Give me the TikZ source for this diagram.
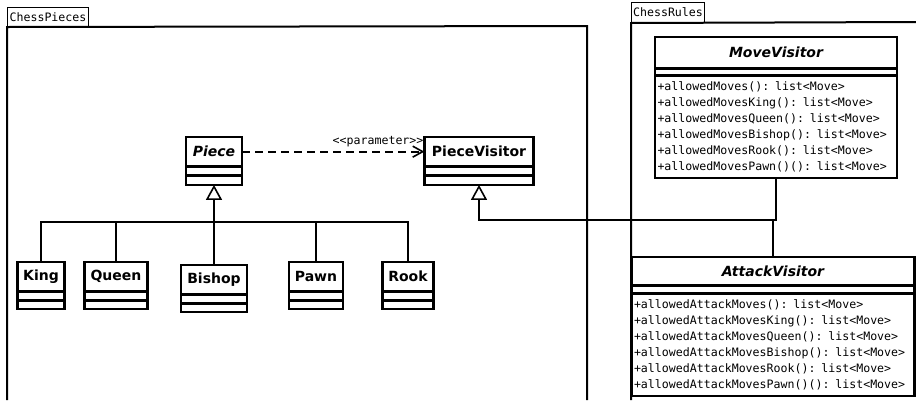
\documentclass[tikz,border=0pt]{standalone}
\usepackage{fontspec}
\setsansfont{DejaVu Sans}
\setmonofont{DejaVu Sans Mono}
\usetikzlibrary{arrows.meta,positioning,fit}

\begin{document}
\begin{tikzpicture}[x=1pt, y=-1pt,
  tab/.style={draw, line width=1pt, anchor=north west, inner sep=0pt, font=\ttfamily\fontsize{11.6}{13}\selectfont},
  frame/.style={line width=2pt},
  cname/.style={draw, line width=1.3pt, anchor=north, minimum height=28pt, inner sep=0pt, font=\sffamily\bfseries\fontsize{14}{16}\selectfont},
  abstr/.style={cname, font=\sffamily\bfseries\itshape\fontsize{14}{16}\selectfont},
  comp/.style={draw, line width=1.3pt, anchor=north, minimum height=#1, inner sep=0pt},
  ops/.style={draw, line width=1.3pt, anchor=north, minimum height=101pt, inner xsep=2pt, inner ysep=0pt, align=left, font=\ttfamily\fontsize{11.6}{16}\selectfont},
  outline/.style={draw, line width=2pt, inner sep=0pt},
  rel/.style={line width=1.8pt},
  gen/.style={rel, -{Triangle[open, length=15pt, width=16pt, line width=1.6pt]}},
  dep/.style={rel, dash pattern=on 8pt off 5pt, -{Straight Barb[length=10pt, width=11pt, line width=1.6pt]}},
  stereo/.style={font=\ttfamily\fontsize{11.6}{13}\selectfont, inner sep=0pt, anchor=south east}]
\useasboundingbox (0,0) rectangle (916,400);
% packages
\node[tab, minimum width=81pt, minimum height=19pt] (cp-tab) at (7,7) {ChessPieces};
\node[tab, minimum width=73pt, minimum height=20pt] (cr-tab) at (631,2) {ChessRules};
\draw[frame] (7,400) -- (cp-tab.south west) -- (587,26) -- (587,400);
\draw[frame] (631,400) -- (cr-tab.south west) -- (916,22);
% ChessPieces
\node[abstr, minimum width=55pt] (piece) at (214,137) {Piece};
\node[comp=8pt, minimum width=55pt] (piece-a) at (piece.south) {};
\node[comp=8pt, minimum width=55pt] (piece-m) at (piece-a.south) {};
\node[outline, fit=(piece)(piece-m)] {};
\node[cname, minimum width=108pt] (pv) at (479,137) {PieceVisitor};
\node[comp=8pt, minimum width=108pt] (pv-a) at (pv.south) {};
\node[comp=8pt, minimum width=108pt] (pv-m) at (pv-a.south) {};
\node[outline, fit=(pv)(pv-m)] {};
\foreach \n/\x/\w/\y/\lbl in {king/41/46/262/King, queen/116/62/262/Queen,
    bishop/214/65/265/Bishop, pawn/316/53/262/Pawn, rook/408/50/262/Rook}{
  \node[cname, minimum width=\w pt] (\n) at (\x,\y) {\lbl};
  \node[comp=8pt, minimum width=\w pt] (\n-a) at (\n.south) {};
  \node[comp=7pt, minimum width=\w pt] (\n-m) at (\n-a.south) {};
  \node[outline, fit=(\n)(\n-m)] {};
}
% ChessRules
\node[abstr, minimum width=241pt, minimum height=30pt] (mv) at (776,37) {MoveVisitor};
\node[comp=6pt, minimum width=241pt] (mv-a) at (mv.south) {};
\node[ops, text width=237pt] (mv-m) at (mv-a.south) {+allowedMoves(): list<Move>\\
  +allowedMovesKing(): list<Move>\\
  +allowedMovesQueen(): list<Move>\\
  +allowedMovesBishop(): list<Move>\\
  +allowedMovesRook(): list<Move>\\
  +allowedMovesPawn()(): list<Move>};
\node[outline, fit=(mv)(mv-m)] {};
\node[abstr, minimum width=282pt, minimum height=27pt] (av) at (773,257) {AttackVisitor};
\node[comp=7pt, minimum width=282pt] (av-a) at (av.south) {};
\node[ops, text width=278pt] (av-m) at (av-a.south) {+allowedAttackMoves(): list<Move>\\
  +allowedAttackMovesKing(): list<Move>\\
  +allowedAttackMovesQueen(): list<Move>\\
  +allowedAttackMovesBishop(): list<Move>\\
  +allowedAttackMovesRook(): list<Move>\\
  +allowedAttackMovesPawn()(): list<Move>};
\node[outline, fit=(av)(av-m)] {};
% connectors
\coordinate (pj) at (214,222);
\foreach \n in {king,queen,pawn,rook}
  \draw[rel] (\n.north) |- (pj);
\draw[gen] (bishop.north) -- (piece-m.south);
\coordinate (vj) at (775,220);
\draw[rel] (mv-m.south) |- (vj);
\draw[rel] (av.north) |- (vj);
\draw[gen] (vj) -| (pv-m.south);
\draw[dep] (piece.east) -- node[stereo, pos=1, yshift=4pt] {<\kern0pt<parameter>\kern0pt>} (pv.west);
\end{tikzpicture}
\end{document}
